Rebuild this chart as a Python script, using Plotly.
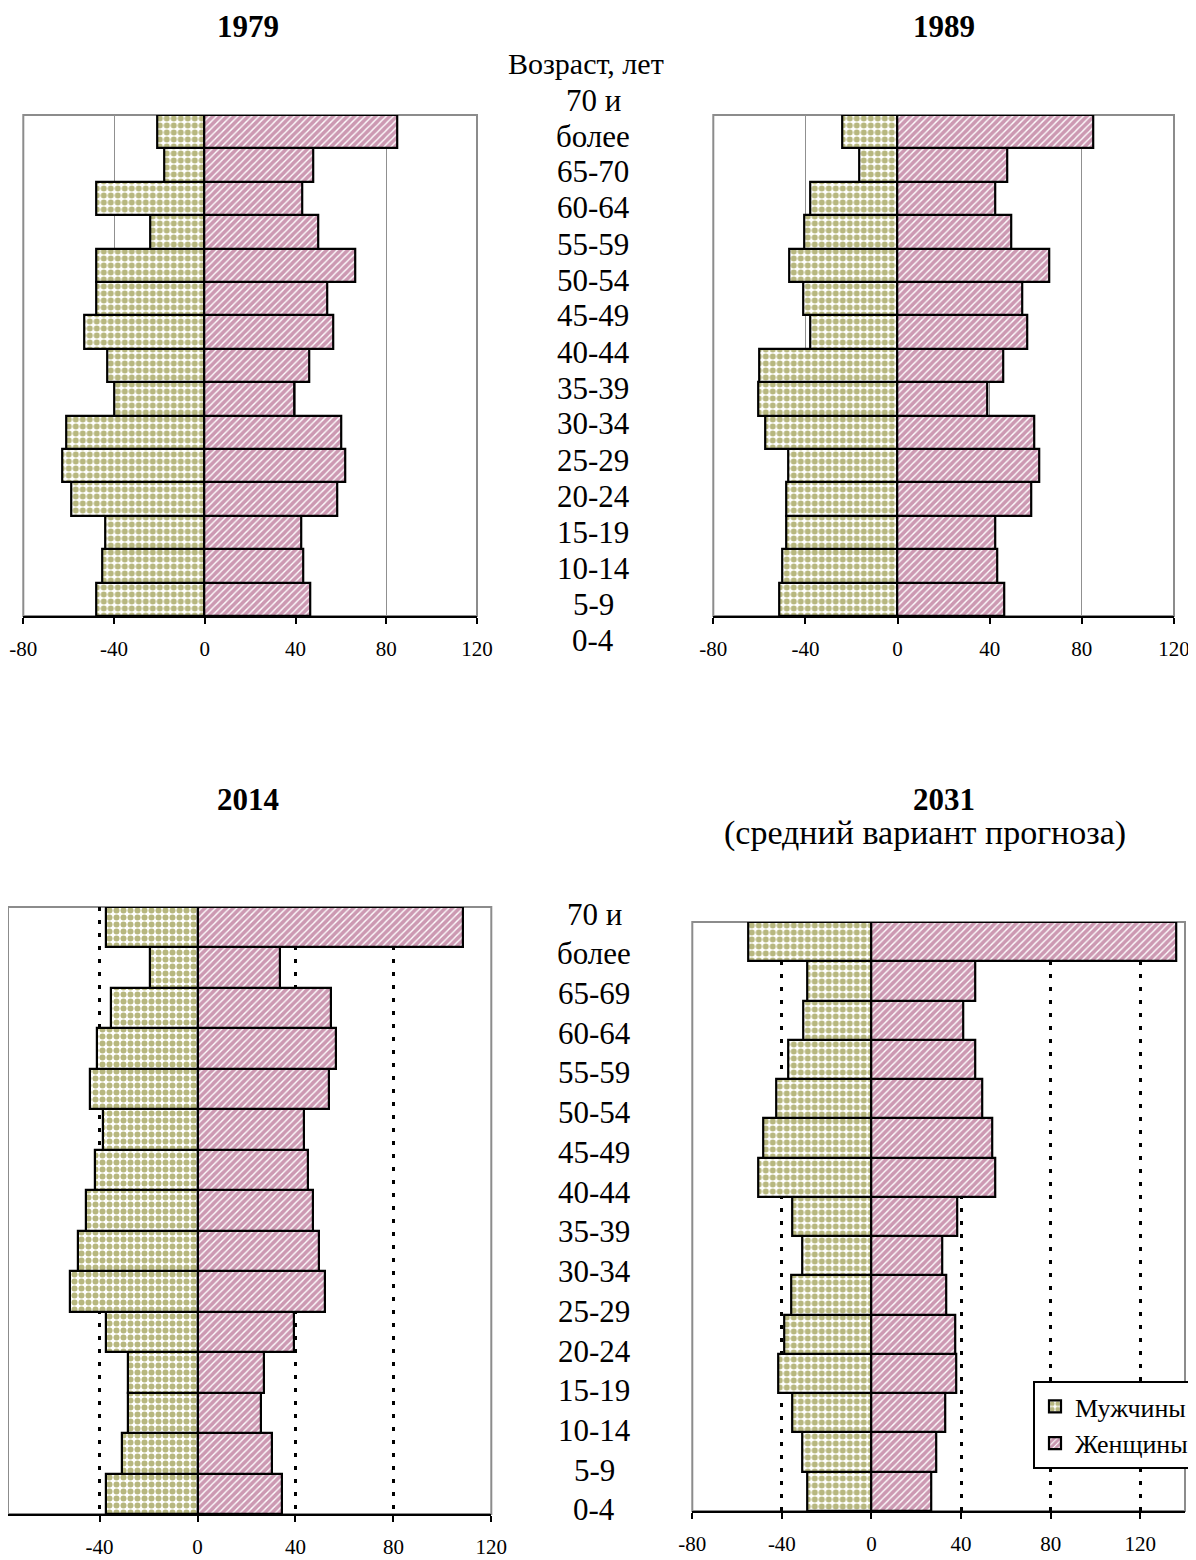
import plotly.graph_objects as go

# Page is 1196x1560; the browser adds an 8px body margin, so the figure is
# sized 8px smaller and every reference pixel position is shifted by 8px.
PAGE_W, PAGE_H = 1196, 1560
OFF = 8
FW, FH = PAGE_W - OFF, PAGE_H - OFF

AGES_A = ["0-4", "5-9", "10-14", "15-19", "20-24", "25-29", "30-34", "35-39",
          "40-44", "45-49", "50-54", "55-59", "60-64", "65-70", "70 и более"]
AGES_B = ["0-4", "5-9", "10-14", "15-19", "20-24", "25-29", "30-34", "35-39",
          "40-44", "45-49", "50-54", "55-59", "60-64", "65-69", "70 и более"]

MEN_1979 = [48, 45, 44, 59, 63, 61, 40, 43, 53, 48, 48, 24, 48, 18, 21]
WOMEN_1979 = [46.5, 43.5, 42.5, 58.5, 62, 60, 39.5, 46, 56.5, 54, 66.5, 50, 43, 48, 85]
MEN_1989 = [51.5, 50, 48.5, 48.5, 47.5, 57.5, 60.5, 60, 38, 41, 47, 40.5, 38, 16.5, 24]
WOMEN_1989 = [46.5, 43.5, 42.5, 58, 61.5, 59.5, 39, 46, 56.5, 54, 66, 49.5, 42.5, 47.5, 85]
MEN_2014 = [37.5, 31, 28.5, 28.5, 37.5, 52, 49, 45.5, 42, 38.5, 44, 41, 35.5, 19.5, 37.5]
WOMEN_2014 = [34.5, 30.5, 26, 27, 39.5, 52, 49.5, 47, 45, 43.5, 53.5, 56.5, 54.5, 33.5, 108.5]
MEN_2031 = [28.5, 31, 35.5, 41.5, 39, 36, 31, 35.5, 50.5, 48.5, 42.5, 37, 30.5, 28.5, 55]
WOMEN_2031 = [26.5, 29, 33, 38, 37.5, 33.5, 31.5, 38.5, 55.5, 54, 49.5, 46.5, 41, 46.5, 136]

TICKS = [-80, -40, 0, 40, 80, 120]

AXIS_HEADER = "Возраст, лет"
TOP_LABELS = ["70 и", "более", "65-70", "60-64", "55-59", "50-54",
              "45-49", "40-44", "35-39", "30-34", "25-29", "20-24", "15-19",
              "10-14", "5-9", "0-4"]
BOTTOM_LABELS = ["70 и", "более", "65-69", "60-64", "55-59", "50-54", "45-49",
                 "40-44", "35-39", "30-34", "25-29", "20-24", "15-19", "10-14",
                 "5-9", "0-4"]

FONT = "'Times New Roman', 'Liberation Serif', serif"
MEN_COLOR = "#707000"
WOMEN_COLOR = "#993366"


def fx(p):
    return (p - OFF) / FW


def fy(p):
    return 1 - (p - OFF) / FH


panels = [
    # men, women, ages, x range, x px of range ends, y px (top, bottom), grid style
    (MEN_1979, WOMEN_1979, AGES_A, [-80, 120], (23.3, 477), (115, 616), "solid"),
    (MEN_1989, WOMEN_1989, AGES_A, [-80, 120], (713.3, 1174), (115, 616), "solid"),
    (MEN_2014, WOMEN_2014, AGES_B, [-80, 120], (1.7, 491.3), (907, 1514), "dot"),
    (MEN_2031, WOMEN_2031, AGES_B, [-80, 140], (692.3, 1185), (922, 1511), "dot"),
]

fig = go.Figure()
shapes = []
for i, (men, women, ages, xr, xd, yd, grid) in enumerate(panels, start=1):
    xa = "x" if i == 1 else f"x{i}"
    ya = "y" if i == 1 else f"y{i}"
    show = (i == 4)
    x0p, x1p = xd
    rng = list(xr)
    if x0p < OFF:  # left edge falls into the page margin: clip the range
        per_px = (xr[1] - xr[0]) / (x1p - x0p)
        rng[0] = xr[0] + (OFF - x0p) * per_px
        x0p = OFF
    fig.add_trace(go.Bar(
        y=ages, x=[-v for v in men], orientation="h", name="Мужчины",
        xaxis=xa, yaxis=ya, showlegend=show, legendrank=1,
        marker=dict(color="white", line=dict(color="black", width=2.2),
                    pattern=dict(shape=".", fgcolor=MEN_COLOR, bgcolor="white",
                                 size=7, solidity=0.58)),
    ))
    fig.add_trace(go.Bar(
        y=ages, x=women, orientation="h", name="Женщины",
        xaxis=xa, yaxis=ya, showlegend=show, legendrank=2,
        marker=dict(color="white", line=dict(color="black", width=2.2),
                    pattern=dict(shape="/", fgcolor=WOMEN_COLOR, bgcolor="white",
                                 size=5, solidity=0.72)),
    ))
    if grid == "solid":
        gridkw = dict(showgrid=True, gridcolor="#909090", gridwidth=1, griddash="solid")
    else:
        gridkw = dict(showgrid=True, gridcolor="black", gridwidth=3, griddash="4px,9px")
    xkey = "xaxis" if i == 1 else f"xaxis{i}"
    ykey = "yaxis" if i == 1 else f"yaxis{i}"
    fig.update_layout(**{
        xkey: dict(domain=[fx(x0p), fx(x1p)], range=rng, anchor=ya,
                   tickmode="array", tickvals=TICKS, ticktext=[str(t) for t in TICKS],
                   ticks="outside", ticklen=6, tickwidth=2, tickcolor="black",
                   showline=True, linecolor="black", linewidth=2,
                   zeroline=False, ticklabelstandoff=7, automargin=False,
                   tickfont=dict(family=FONT, size=21, color="black"), **gridkw),
        ykey: dict(domain=[fy(yd[1]), fy(yd[0])], anchor=xa,
                   type="category", categoryorder="array", categoryarray=ages,
                   showticklabels=False, showgrid=False, zeroline=False,
                   showline=False, ticks="", automargin=False),
    })
    shapes.append(dict(type="rect", xref=f"{xa} domain", yref=f"{ya} domain",
                       x0=0, x1=1, y0=0, y1=1, layer="below",
                       line=dict(color="#8c8c8c", width=2)))

annotations = [dict(text=AXIS_HEADER, x=fx(586), y=fy(64),
                    xref="paper", yref="paper", showarrow=False,
                    xanchor="center", yanchor="middle",
                    font=dict(family=FONT, size=30, color="black"))]
for j, txt in enumerate(TOP_LABELS):
    annotations.append(dict(text=txt, x=fx(593), y=fy(100 + 36 * j),
                            xref="paper", yref="paper", showarrow=False,
                            xanchor="center", yanchor="middle",
                            font=dict(family=FONT, size=31, color="black")))
for j, txt in enumerate(BOTTOM_LABELS):
    annotations.append(dict(text=txt, x=fx(594), y=fy(914 + 39.73 * j),
                            xref="paper", yref="paper", showarrow=False,
                            xanchor="center", yanchor="middle",
                            font=dict(family=FONT, size=31, color="black")))

titles = [("<b>1979</b>", 248, 27, 31), ("<b>1989</b>", 944, 27, 31),
          ("<b>2014</b>", 248, 799, 31), ("<b>2031</b>", 944, 799, 31),
          ("(средний вариант прогноза)", 925, 833, 34)]
for txt, x, y, sz in titles:
    annotations.append(dict(text=txt, x=fx(x), y=fy(y), xref="paper", yref="paper",
                            showarrow=False, xanchor="center", yanchor="middle",
                            font=dict(family=FONT, size=sz, color="black")))

fig.update_layout(
    width=FW, height=FH, margin=dict(l=0, r=0, t=0, b=0, autoexpand=False),
    paper_bgcolor="white", plot_bgcolor="white",
    barmode="relative", bargap=0,
    shapes=shapes, annotations=annotations,
    legend=dict(x=fx(1033), y=fy(1381), xanchor="left", yanchor="top",
                xref="container", yref="container",
                bgcolor="white", bordercolor="black", borderwidth=2,
                font=dict(family=FONT, size=26, color="black"),
                traceorder="normal", itemwidth=30, tracegroupgap=0),
    font=dict(family=FONT, color="black"),
)

fig.write_html("out.html")
